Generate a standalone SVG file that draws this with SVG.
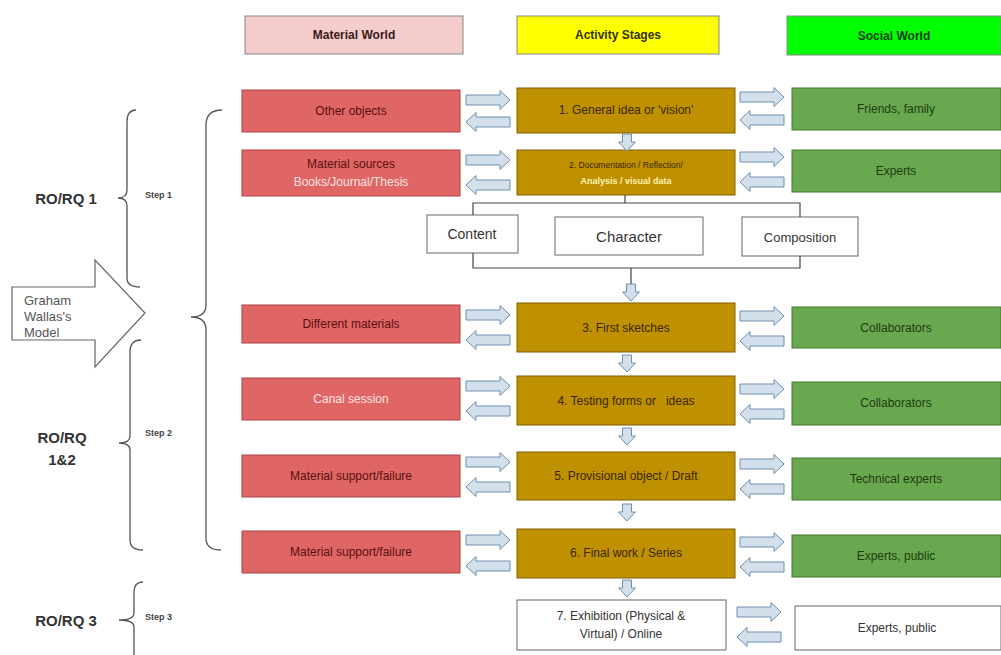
<svg xmlns="http://www.w3.org/2000/svg" width="1001" height="655" viewBox="0 0 1001 655">
<defs>
<style>
text{font-family:"Liberation Sans",Arial,sans-serif;text-anchor:middle;dominant-baseline:central}
.hdr{font-size:12px;font-weight:bold}
.red{fill:#e06666;stroke:#a94442;stroke-width:1}
.act{fill:#bf9000;stroke:#7f6000;stroke-width:1}
.grn{fill:#6aa84f;stroke:#3f7a2a;stroke-width:1}
.wht{fill:#ffffff;stroke:#666;stroke-width:1}
.rt{font-size:12px;fill:#5a0f0f}
.at{font-size:12px;fill:#3a2600}
.gt{font-size:12px;fill:#1c3d10}
.lt{font-size:12px;fill:#fbe3e3}
.bt{font-size:13px;fill:#333}
.arr{fill:#d3dfeb;stroke:#6f8fb0;stroke-width:1}
.ln{fill:none;stroke:#444;stroke-width:1.2}
.br{fill:none;stroke:#555;stroke-width:1.3}
.lab{font-size:15px;font-weight:bold;fill:#333}
.stp{font-size:9px;font-weight:bold;fill:#444;text-anchor:start}
</style>
<path id="ra" d="M0,-5 H34 V-9.5 L44,0 L34,9.5 V5 H0 Z"/>
<path id="la" d="M44,-5 H10 V-9.5 L0,0 L10,9.5 V5 H44 Z"/>
<path id="da" d="M-4.5,0 V8 H-8.5 L0,17 L8.5,8 H4.5 V0 Z"/>
</defs>
<rect width="1001" height="655" fill="#ffffff"/>

<g id="headers">
<g id="h-material"><rect x="245" y="16" width="218" height="38" fill="#f4cccc" stroke="#888"/><text class="hdr" x="354" y="35" fill="#3a1a1a">Material World</text></g>
<g id="h-activity"><rect x="517" y="16" width="202" height="38" fill="#ffff00" stroke="#888"/><text class="hdr" x="618" y="35" fill="#333300">Activity Stages</text></g>
<g id="h-social"><rect x="787" y="16" width="214" height="39" fill="#00ff00" stroke="#888"/><text class="hdr" x="894" y="36" fill="#104010">Social World</text></g>
</g>

<g id="m1"><rect class="red" x="242" y="90" width="218" height="42"/><text class="rt" x="351" y="111">Other objects</text></g>
<g id="m2"><rect class="red" x="242" y="150" width="218" height="46"/><text class="rt" x="351" y="164">Material sources</text><text class="lt" x="351" y="182">Books/Journal/Thesis</text></g>
<g id="m3"><rect class="red" x="242" y="305" width="218" height="38"/><text class="rt" x="351" y="324">Different materials</text></g>
<g id="m4"><rect class="red" x="242" y="378" width="218" height="42"/><text class="lt" x="351" y="399">Canal session</text></g>
<g id="m5"><rect class="red" x="242" y="455" width="218" height="42"/><text class="rt" x="351" y="476">Material support/failure</text></g>
<g id="m6"><rect class="red" x="242" y="531" width="218" height="42"/><text class="rt" x="351" y="552">Material support/failure</text></g>

<g id="a1"><rect class="act" x="517" y="88" width="218" height="45"/><text class="at" x="626" y="110">1. General idea or 'vision'</text></g>
<g id="a2"><rect class="act" x="517" y="150" width="218" height="45"/><text class="at" x="626" y="165" style="font-size:8.5px">2. Documentation / Reflection/</text><text x="626" y="181" style="font-size:9px;font-weight:bold;fill:#fff3b0">Analysis / visual data</text></g>
<g id="a3"><rect class="act" x="517" y="303" width="218" height="49"/><text class="at" x="626" y="328">3. First sketches</text></g>
<g id="a4"><rect class="act" x="517" y="376" width="218" height="49"/><text class="at" x="626" y="401" style="white-space:pre" xml:space="preserve">4. Testing forms or   ideas</text></g>
<g id="a5"><rect class="act" x="517" y="452" width="218" height="48"/><text class="at" x="626" y="476">5. Provisional object / Draft</text></g>
<g id="a6"><rect class="act" x="517" y="529" width="218" height="49"/><text class="at" x="626" y="553">6. Final work / Series</text></g>
<g id="a7"><rect class="wht" x="517" y="600" width="209" height="50"/><text class="at" x="621" y="616" style="fill:#333">7. Exhibition (Physical &amp;</text><text class="at" x="621" y="634" style="fill:#333">Virtual) / Online</text></g>

<g id="s1"><rect class="grn" x="792" y="88" width="209" height="42"/><text class="gt" x="896" y="109">Friends, family</text></g>
<g id="s2"><rect class="grn" x="792" y="150" width="209" height="42"/><text class="gt" x="896" y="171">Experts</text></g>
<g id="s3"><rect class="grn" x="792" y="307" width="209" height="41"/><text class="gt" x="896" y="328">Collaborators</text></g>
<g id="s4"><rect class="grn" x="792" y="382" width="209" height="43"/><text class="gt" x="896" y="403">Collaborators</text></g>
<g id="s5"><rect class="grn" x="792" y="458" width="209" height="42"/><text class="gt" x="896" y="479">Technical experts</text></g>
<g id="s6"><rect class="grn" x="792" y="535" width="209" height="42"/><text class="gt" x="896" y="556">Experts, public</text></g>
<g id="s7"><rect class="wht" x="795" y="606" width="206" height="44"/><text class="at" x="897" y="628" style="fill:#333">Experts, public</text></g>

<g id="aspects">
<g id="content"><rect class="wht" x="427" y="215" width="91" height="38"/><text class="bt" x="472" y="234" style="font-size:14px">Content</text></g>
<g id="character"><rect class="wht" x="555" y="217" width="148" height="38"/><text class="bt" x="629" y="236" style="font-size:15px">Character</text></g>
<g id="composition"><rect class="wht" x="742" y="217" width="116" height="39"/><text class="bt" x="800" y="237">Composition</text></g>
</g>

<g id="connectors">
<path class="ln" d="M625,195 V203 M473,215 V203 H800 V217 M473,253 V268 H800 V256 M631,268 V284"/>
<g class="arr">
<use href="#ra" x="466" y="100"/><use href="#la" x="466" y="122"/>
<use href="#ra" x="740" y="97"/><use href="#la" x="740" y="120"/>
<use href="#ra" x="466" y="160"/><use href="#la" x="466" y="185"/>
<use href="#ra" x="740" y="157"/><use href="#la" x="740" y="182"/>
<use href="#ra" x="466" y="315"/><use href="#la" x="466" y="340"/>
<use href="#ra" x="740" y="316"/><use href="#la" x="740" y="341"/>
<use href="#ra" x="466" y="386"/><use href="#la" x="466" y="411"/>
<use href="#ra" x="740" y="389"/><use href="#la" x="740" y="414"/>
<use href="#ra" x="466" y="462"/><use href="#la" x="466" y="487"/>
<use href="#ra" x="740" y="464"/><use href="#la" x="740" y="489"/>
<use href="#ra" x="466" y="540"/><use href="#la" x="466" y="566"/>
<use href="#ra" x="740" y="542"/><use href="#la" x="740" y="567"/>
<use href="#ra" x="737" y="612"/><use href="#la" x="737" y="637"/>
<use href="#da" x="627" y="134"/>
<use href="#da" x="631" y="284"/>
<use href="#da" x="627" y="355"/>
<use href="#da" x="627" y="428"/>
<use href="#da" x="627" y="504"/>
<use href="#da" x="627" y="580"/>
</g>
</g>

<g id="braces">
<path class="br" d="M222,110 Q206,110 206,125 V305 Q206,317 191,317 Q206,317 206,330 V538 Q206,550 221,550"/>
<path class="br" d="M136,110 Q127,110 127,122 V190 Q127,198 118,198 Q127,198 127,206 V278 Q127,287 140,287"/>
<path class="br" d="M141,340 Q130,340 130,352 V436 Q130,443 119,443 Q130,443 130,450 V540 Q130,550 143,550"/>
<path class="br" d="M143,582 Q134,582 134,592 V613 Q134,620 119,620 Q134,620 134,627 V655"/>
</g>

<g id="wallas">
<path d="M12,287 H95 V260 L145,313 L95,367 V340 H12 Z" fill="#ffffff" stroke="#666" stroke-width="1.2"/>
<text x="24" y="300" style="font-size:13px;fill:#555;text-anchor:start">Graham</text>
<text x="24" y="316" style="font-size:13px;fill:#555;text-anchor:start">Wallas's</text>
<text x="24" y="332" style="font-size:13px;fill:#555;text-anchor:start">Model</text>
</g>

<g id="labels">
<text class="lab" x="66" y="198">RO/RQ 1</text>
<text class="lab" x="62" y="437">RO/RQ</text>
<text class="lab" x="62" y="459">1&amp;2</text>
<text class="lab" x="66" y="620">RO/RQ 3</text>
<text class="stp" x="145" y="195">Step 1</text>
<text class="stp" x="145" y="433">Step 2</text>
<text class="stp" x="145" y="617">Step 3</text>
</g>
</svg>
